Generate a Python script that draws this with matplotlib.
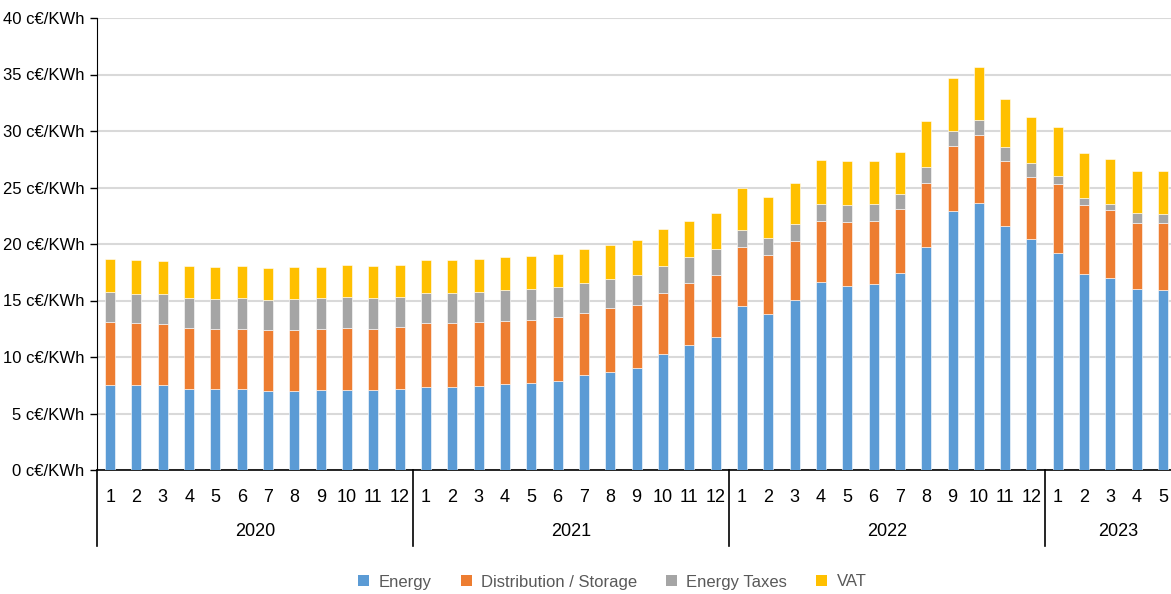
import matplotlib.pyplot as plt
import numpy as np
from matplotlib.patches import Patch

YEARS = ["2020", "2021", "2022", "2023"]
MONTHS_PER_YEAR = [12, 12, 12, 5]

ENERGY = [7.55, 7.49, 7.49, 7.20, 7.14, 7.14, 7.02, 6.99, 7.05, 7.11, 7.11, 7.20,
          7.37, 7.37, 7.46, 7.64, 7.67, 7.85, 8.38, 8.70, 9.03, 10.24, 11.06, 11.77,
          14.54, 13.83, 15.04, 16.67, 16.31, 16.43, 17.40, 19.71, 22.95, 23.66, 21.59, 20.41,
          19.23, 17.32, 16.96, 15.99, 15.90]
DISTRIBUTION = [5.52, 5.52, 5.46, 5.40, 5.36, 5.36, 5.40, 5.43, 5.43, 5.49, 5.39, 5.43,
                5.64, 5.64, 5.61, 5.58, 5.57, 5.66, 5.54, 5.61, 5.60, 5.45, 5.52, 5.46,
                5.22, 5.23, 5.23, 5.34, 5.61, 5.63, 5.67, 5.72, 5.75, 5.96, 5.78, 5.55,
                6.11, 6.10, 6.02, 5.90, 5.93]
TAXES = [2.65, 2.59, 2.65, 2.62, 2.63, 2.69, 2.65, 2.68, 2.71, 2.71, 2.72, 2.71,
         2.68, 2.65, 2.71, 2.68, 2.75, 2.66, 2.60, 2.59, 2.60, 2.33, 2.30, 2.30,
         1.51, 1.47, 1.47, 1.50, 1.53, 1.51, 1.33, 1.35, 1.33, 1.32, 1.21, 1.18,
         0.65, 0.65, 0.59, 0.82, 0.82]
VAT = [2.92, 2.95, 2.90, 2.83, 2.83, 2.86, 2.81, 2.84, 2.80, 2.80, 2.83, 2.83,
       2.89, 2.92, 2.89, 2.92, 2.92, 2.95, 3.01, 3.04, 3.09, 3.28, 3.16, 3.21,
       3.69, 3.60, 3.63, 3.92, 3.87, 3.78, 3.74, 4.10, 4.66, 4.69, 4.22, 4.13,
       4.33, 3.98, 3.92, 3.78, 3.84]

SERIES = [
    ("Energy", ENERGY, "#5B9BD5"),
    ("Distribution / Storage", DISTRIBUTION, "#ED7D31"),
    ("Energy Taxes", TAXES, "#A5A5A5"),
    ("VAT", VAT, "#FFC000"),
]

plt.rcParams["font.family"] = ["Liberation Sans", "DejaVu Sans"]

fig = plt.figure(figsize=(11.71, 5.94), dpi=100)
ax = fig.add_axes([97 / 1171, 124 / 594, 1074 / 1171, 452 / 594])

month_labels = []
for n in MONTHS_PER_YEAR:
    month_labels += [str(m) for m in range(1, n + 1)]
x = np.arange(len(month_labels))

bottom = np.zeros(len(x))
handles = []
for label, values, color in SERIES:
    vals = np.asarray(values)
    ax.bar(x, vals, bottom=bottom, width=0.38, color=color,
           edgecolor="#ffffff", linewidth=0.4, zorder=3)
    bottom += vals
    handles.append(Patch(facecolor=color, label=label))

ax.set_xlim(-0.5, 40.3)
ax.set_ylim(0, 40)
ax.set_yticks(np.arange(0, 41, 5))
ax.set_yticklabels([f"{v} c€/KWh" for v in range(0, 41, 5)], fontsize=12)
ax.yaxis.grid(True, color="#d9d9d9", linewidth=1.5, zorder=0)
ax.tick_params(axis="y", length=5, width=1, direction="out", pad=4)

ax.set_xticks(x)
ax.set_xticklabels(month_labels, fontsize=13)
ax.tick_params(axis="x", length=0, pad=14)

for side in ["top", "right"]:
    ax.spines[side].set_visible(False)
ax.spines["left"].set_color("black")
ax.spines["bottom"].set_color("black")
ax.spines["bottom"].set_linewidth(1.2)

trans = ax.get_xaxis_transform()
start = 0
bounds = [-0.5]
for year, n in zip(YEARS, MONTHS_PER_YEAR):
    end = start + n
    center = (start + end - 1) / 2 if n == 12 else (start + end - 1) / 2 + 0.3
    ax.text(center, -0.137, year, transform=trans, ha="center", va="center", fontsize=13)
    bounds.append(end - 0.5)
    start = end
for b in bounds[:-1]:
    ax.plot([b, b], [0, -0.168], transform=trans, color="black", linewidth=1.2, clip_on=False)

leg = fig.legend(handles=handles, loc="center", bbox_to_anchor=(0.523, (594 - 582) / 594), ncol=4,
                 frameon=False, fontsize=12, handlelength=0.66, handleheight=0.66,
                 columnspacing=1.75, handletextpad=0.55)
for t in leg.get_texts():
    t.set_color("#595959")

fig.savefig("out.png", dpi=100)
